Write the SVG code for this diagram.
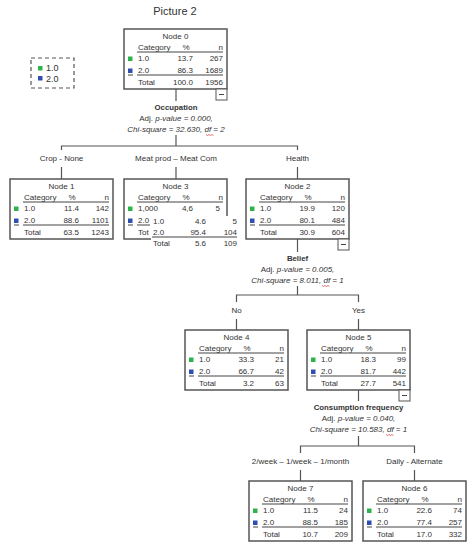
<svg xmlns="http://www.w3.org/2000/svg" width="475" height="550" viewBox="0 0 475 550">
<style>
text{font-family:"Liberation Sans",Arial,sans-serif;font-size:8px;fill:#333}
.title{font-size:11px}
.m{text-anchor:middle}
.e{text-anchor:end}
.b{font-weight:bold;font-size:7.8px}
.i{font-style:italic}
.box{fill:#fff;stroke:#555;stroke-width:1.5}
.hl{stroke:#444;stroke-width:1}
.c{fill:none;stroke:#555;stroke-width:1.2}
.g{fill:#2db34a}
.bl{fill:#2f4fb0}
.mn{fill:#fff;stroke:#555;stroke-width:1}
.sq{fill:none;stroke:#d33;stroke-width:0.7}
</style>
<rect width="475" height="550" fill="#fff"/>
<text class="title m" x="175" y="15">Picture 2</text>

<g id="legend">
<rect x="31" y="58" width="43" height="30" fill="none" stroke="#555" stroke-width="1.2" stroke-dasharray="4,3"/>
<rect class="g" x="38" y="66" width="4.5" height="4.5"/>
<text x="46" y="71" style="font-size:9px">1.0</text>
<rect class="bl" x="38" y="76" width="4.5" height="4.5"/>
<text x="46" y="82" style="font-size:9px">2.0</text>
</g>

<g id="connectors">
<path class="c" d="M176,89 V101"/>
<path class="c" d="M176,135 V146 M61.5,150 V146 H297.5 V150"/>
<path class="c" d="M61.5,167 V179 M176,167 V179 M297.5,167 V179"/>
<path class="c" d="M297.5,239 V252"/>
<path class="c" d="M297.5,286 V295 M236.5,302 V295 H358.5 V302"/>
<path class="c" d="M236.5,319 V330 M358.5,319 V330"/>
<path class="c" d="M358.5,390 V401"/>
<path class="c" d="M358.5,436 V446 M300.5,453 V446 H414.5 V453"/>
<path class="c" d="M300.5,470 V481 M414.5,470 V481"/>
</g>

<g id="labels">
<text class="b m" x="176" y="110">Occupation</text>
<text class="m" x="176" y="121">Adj. <tspan class="i">p-value = 0.000,</tspan></text>
<text class="i m" x="176" y="132">Chi-square = 32.630, df = 2</text>
<path class="sq" d="M206,134.5 l1.5,1 1.5,-1 1.5,1 1.5,-1 1.5,1"/>
<text class="m" x="61.5" y="161">Crop - None</text>
<text class="m" x="176" y="161">Meat prod – Meat Com</text>
<text class="m" x="297.5" y="161">Health</text>
<text class="b m" x="297.5" y="261">Belief</text>
<text class="m" x="297.5" y="272">Adj. <tspan class="i">p-value = 0.005,</tspan></text>
<text class="i m" x="297.5" y="283">Chi-square = 8.011, df = 1</text>
<path class="sq" d="M322,285.5 l1.5,1 1.5,-1 1.5,1 1.5,-1 1.5,1"/>
<text class="m" x="236.5" y="313">No</text>
<text class="m" x="358.5" y="313">Yes</text>
<text class="b m" x="358.5" y="410">Consumption frequency</text>
<text class="m" x="358.5" y="421">Adj. <tspan class="i">p-value = 0.040,</tspan></text>
<text class="i m" x="358.5" y="432">Chi-square = 10.583, df = 1</text>
<path class="sq" d="M386,434.5 l1.5,1 1.5,-1 1.5,1 1.5,-1 1.5,1"/>
<text class="m" x="300.5" y="464">2/week – 1/week – 1/month</text>
<text class="m" x="414.5" y="464">Daily - Alternate</text>
</g>

<defs>
<g id="hdr">
<text x="14" y="21">Category</text><text class="m" x="62" y="21">%</text><text class="e" x="99" y="21">n</text>
<line class="hl" x1="13" y1="23" x2="99" y2="23"/>
<rect class="g" x="4" y="27.5" width="4.5" height="4.5"/>
<rect class="bl" x="4" y="39.5" width="4.5" height="4.5"/>
<line class="hl" x1="4" y1="46" x2="9" y2="46"/>
</g>
<g id="minus">
<rect class="mn" x="92" y="60" width="11" height="11"/>
<line stroke="#444" stroke-width="1" x1="95" y1="65.5" x2="100" y2="65.5"/>
</g>
</defs>

<g id="node0" transform="translate(124,29)">
<rect class="box" width="103" height="60"/>
<text class="m" x="51.5" y="10">Node 0</text>
<use href="#hdr"/>
<text x="14" y="32">1.0</text><text class="e" x="69" y="32">13.7</text><text class="e" x="99" y="32">267</text>
<text x="14" y="44">2.0</text><text class="e" x="69" y="44">86.3</text><text class="e" x="99" y="44">1689</text>
<line class="hl" x1="13" y1="46" x2="99" y2="46"/>
<text x="14" y="56">Total</text><text class="e" x="69" y="56">100.0</text><text class="e" x="99" y="56">1956</text>
<use href="#minus"/>
</g>

<g id="node1" transform="translate(10,179)">
<rect class="box" width="103" height="60"/>
<text class="m" x="51.5" y="10">Node 1</text>
<use href="#hdr"/>
<text x="14" y="32">1.0</text><text class="e" x="69" y="32">11.4</text><text class="e" x="99" y="32">142</text>
<text x="14" y="44">2.0</text><text class="e" x="69" y="44">88.6</text><text class="e" x="99" y="44">1101</text>
<line class="hl" x1="13" y1="46" x2="99" y2="46"/>
<text x="14" y="56">Total</text><text class="e" x="69" y="56">63.5</text><text class="e" x="99" y="56">1243</text>
</g>

<g id="node3" transform="translate(124,179)">
<rect class="box" width="103" height="60"/>
<text class="m" x="51.5" y="10">Node 3</text>
<use href="#hdr"/>
<text x="14" y="32">1,000</text><text class="e" x="69" y="32">4,6</text><text class="e" x="96" y="32">5</text>
<text x="14" y="44">2.0</text>
<line class="hl" x1="13" y1="46" x2="26" y2="46"/>
<text x="14" y="56">Tot</text>
<rect x="27" y="37" width="91" height="34" fill="#fff"/>
<text x="29" y="45">1.0</text><text class="e" x="82" y="45">4.6</text><text class="e" x="113" y="45">5</text>
<text x="29" y="56">2.0</text><text class="e" x="82" y="56">95.4</text><text class="e" x="113" y="56">104</text>
<line class="hl" x1="28" y1="58" x2="113" y2="58"/>
<text x="29" y="67">Total</text><text class="e" x="82" y="67">5.6</text><text class="e" x="113" y="67">109</text>
</g>

<g id="node2" transform="translate(246,179)">
<rect class="box" width="103" height="60"/>
<text class="m" x="51.5" y="10">Node 2</text>
<use href="#hdr"/>
<text x="14" y="32">1.0</text><text class="e" x="69" y="32">19.9</text><text class="e" x="99" y="32">120</text>
<text x="14" y="44">2.0</text><text class="e" x="69" y="44">80.1</text><text class="e" x="99" y="44">484</text>
<line class="hl" x1="13" y1="46" x2="99" y2="46"/>
<text x="14" y="56">Total</text><text class="e" x="69" y="56">30.9</text><text class="e" x="99" y="56">604</text>
<use href="#minus"/>
</g>

<g id="node4" transform="translate(185,330)">
<rect class="box" width="103" height="60"/>
<text class="m" x="51.5" y="10">Node 4</text>
<use href="#hdr"/>
<text x="14" y="32">1.0</text><text class="e" x="69" y="32">33.3</text><text class="e" x="99" y="32">21</text>
<text x="14" y="44">2.0</text><text class="e" x="69" y="44">66.7</text><text class="e" x="99" y="44">42</text>
<line class="hl" x1="13" y1="46" x2="99" y2="46"/>
<text x="14" y="56">Total</text><text class="e" x="69" y="56">3.2</text><text class="e" x="99" y="56">63</text>
</g>

<g id="node5" transform="translate(307,330)">
<rect class="box" width="103" height="60"/>
<text class="m" x="51.5" y="10">Node 5</text>
<use href="#hdr"/>
<text x="14" y="32">1.0</text><text class="e" x="69" y="32">18.3</text><text class="e" x="99" y="32">99</text>
<text x="14" y="44">2.0</text><text class="e" x="69" y="44">81.7</text><text class="e" x="99" y="44">442</text>
<line class="hl" x1="13" y1="46" x2="99" y2="46"/>
<text x="14" y="56">Total</text><text class="e" x="69" y="56">27.7</text><text class="e" x="99" y="56">541</text>
<use href="#minus"/>
</g>

<g id="node7" transform="translate(249,481)">
<rect class="box" width="103" height="60"/>
<text class="m" x="51.5" y="10">Node 7</text>
<use href="#hdr"/>
<text x="14" y="32">1.0</text><text class="e" x="69" y="32">11.5</text><text class="e" x="99" y="32">24</text>
<text x="14" y="44">2.0</text><text class="e" x="69" y="44">88.5</text><text class="e" x="99" y="44">185</text>
<line class="hl" x1="13" y1="46" x2="99" y2="46"/>
<text x="14" y="56">Total</text><text class="e" x="69" y="56">10.7</text><text class="e" x="99" y="56">209</text>
</g>

<g id="node6" transform="translate(363,481)">
<rect class="box" width="103" height="60"/>
<text class="m" x="51.5" y="10">Node 6</text>
<use href="#hdr"/>
<text x="14" y="32">1.0</text><text class="e" x="69" y="32">22.6</text><text class="e" x="99" y="32">74</text>
<text x="14" y="44">2.0</text><text class="e" x="69" y="44">77.4</text><text class="e" x="99" y="44">257</text>
<line class="hl" x1="13" y1="46" x2="99" y2="46"/>
<text x="14" y="56">Total</text><text class="e" x="69" y="56">17.0</text><text class="e" x="99" y="56">332</text>
</g>
</svg>
